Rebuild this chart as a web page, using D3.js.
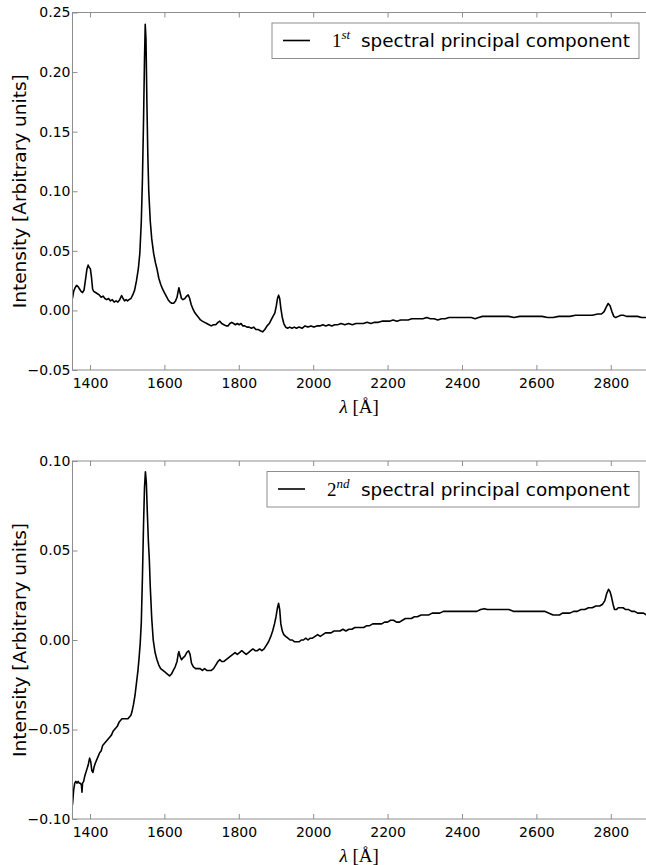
<!DOCTYPE html>
<html>
<head>
<meta charset="utf-8">
<script src="https://cdn.jsdelivr.net/npm/d3@7"></script>
<style>
  body { margin: 0; background: #fff; }
  svg { display: block; }
</style>
</head>
<body>
<div id="chart"></div>
<script>
var wavelengths1 = [1353, 1356, 1360, 1364, 1368, 1372, 1376, 1380, 1384, 1388, 1392, 1395, 1398, 1401, 1404, 1407, 1410, 1415, 1420, 1425, 1430, 1435, 1440, 1445, 1450, 1455, 1460, 1465, 1470, 1475, 1480, 1485, 1489, 1493, 1497, 1501, 1505, 1510, 1515, 1520, 1525, 1530, 1534, 1538, 1541, 1544, 1546.5, 1548.5, 1550.5, 1553, 1555.5, 1558, 1562, 1566, 1571, 1576, 1580, 1585, 1590, 1595, 1600, 1605, 1610, 1615, 1620, 1625, 1630, 1634, 1637, 1639, 1642, 1646, 1650, 1655, 1660, 1664, 1668, 1672, 1677, 1682, 1687, 1692, 1697, 1702, 1708, 1714, 1720, 1726, 1732, 1738, 1744, 1749, 1754, 1760, 1766, 1771, 1776, 1781, 1786, 1791, 1796, 1801, 1806, 1811, 1816, 1822, 1828, 1834, 1840, 1846, 1852, 1858, 1864, 1870, 1876, 1882, 1887, 1892, 1897, 1901, 1904, 1907, 1910, 1913, 1917, 1921, 1926, 1931, 1937, 1943, 1949, 1955, 1962, 1970, 1978, 1986, 1994, 2002, 2010, 2018, 2026, 2034, 2042, 2050, 2058, 2066, 2075, 2085, 2095, 2105, 2115, 2125, 2135, 2145, 2155, 2165, 2175, 2185, 2195, 2205, 2215, 2225, 2235, 2245, 2255, 2265, 2275, 2285, 2295, 2305, 2315, 2325, 2335, 2345, 2355, 2365, 2375, 2385, 2395, 2405, 2415, 2425, 2435, 2445, 2455, 2465, 2480, 2495, 2510, 2525, 2540, 2555, 2570, 2585, 2600, 2615, 2630, 2645, 2660, 2675, 2690, 2705, 2720, 2735, 2750, 2765, 2775, 2782, 2788, 2793, 2798, 2803, 2808, 2813, 2820, 2827, 2834, 2842, 2852, 2862, 2872, 2882, 2895];
var pc1 = [0.010, 0.016, 0.019, 0.021, 0.020, 0.018, 0.016, 0.015, 0.017, 0.026, 0.035, 0.038, 0.036, 0.035, 0.028, 0.018, 0.016, 0.015, 0.014, 0.013, 0.011, 0.012, 0.010, 0.009, 0.010, 0.008, 0.009, 0.007, 0.008, 0.007, 0.009, 0.0125, 0.010, 0.008, 0.009, 0.008, 0.009, 0.010, 0.013, 0.017, 0.025, 0.035, 0.048, 0.075, 0.110, 0.160, 0.210, 0.240, 0.228, 0.175, 0.130, 0.100, 0.075, 0.060, 0.048, 0.040, 0.035, 0.027, 0.022, 0.018, 0.015, 0.012, 0.009, 0.007, 0.006, 0.006, 0.008, 0.011, 0.016, 0.019, 0.015, 0.010, 0.009, 0.010, 0.012, 0.013, 0.010, 0.005, 0.001, -0.002, -0.004, -0.006, -0.008, -0.009, -0.010, -0.011, -0.012, -0.013, -0.012, -0.012, -0.010, -0.009, -0.011, -0.012, -0.013, -0.013, -0.011, -0.010, -0.011, -0.012, -0.011, -0.012, -0.011, -0.013, -0.013, -0.014, -0.014, -0.015, -0.014, -0.016, -0.016, -0.017, -0.018, -0.016, -0.013, -0.011, -0.008, -0.005, -0.002, 0.004, 0.010, 0.0128, 0.010, 0.002, -0.006, -0.011, -0.014, -0.015, -0.014, -0.015, -0.014, -0.015, -0.014, -0.015, -0.013, -0.014, -0.013, -0.014, -0.013, -0.013, -0.012, -0.013, -0.012, -0.013, -0.012, -0.012, -0.011, -0.012, -0.011, -0.012, -0.011, -0.011, -0.011, -0.010, -0.011, -0.010, -0.010, -0.009, -0.009, -0.009, -0.008, -0.009, -0.008, -0.008, -0.008, -0.007, -0.007, -0.007, -0.007, -0.006, -0.007, -0.007, -0.008, -0.007, -0.007, -0.006, -0.006, -0.006, -0.006, -0.006, -0.006, -0.006, -0.007, -0.006, -0.005, -0.005, -0.005, -0.005, -0.005, -0.005, -0.006, -0.005, -0.005, -0.005, -0.005, -0.005, -0.006, -0.006, -0.005, -0.005, -0.005, -0.004, -0.004, -0.004, -0.004, -0.003, -0.003, -0.001, 0.003, 0.0058, 0.004, -0.001, -0.005, -0.006, -0.005, -0.004, -0.004, -0.005, -0.005, -0.005, -0.005, -0.006, -0.006];

var wavelengths2 = [1353, 1356, 1359, 1362, 1365, 1368, 1371, 1374, 1377, 1378.5, 1380, 1383, 1386, 1389, 1392, 1395, 1399, 1402, 1405, 1408, 1411, 1414, 1418, 1422, 1426, 1430, 1434, 1438, 1442, 1446, 1450, 1454, 1458, 1462, 1466, 1470, 1474, 1478, 1482, 1486, 1490, 1494, 1498, 1502, 1506, 1510, 1513, 1517, 1521, 1525, 1529, 1532, 1535, 1538, 1541, 1544, 1546.5, 1549, 1551.5, 1554, 1557, 1559.5, 1562, 1566, 1570, 1575, 1580, 1585, 1590, 1596, 1602, 1608, 1614, 1619, 1624, 1629, 1634, 1637, 1639, 1642, 1646, 1650, 1655, 1660, 1665, 1669, 1673, 1678, 1684, 1690, 1696, 1702, 1708, 1714, 1720, 1726, 1732, 1738, 1744, 1749, 1754, 1760, 1766, 1772, 1778, 1784, 1790, 1796, 1802, 1808, 1814, 1820, 1826, 1832, 1838, 1844, 1850, 1856, 1862, 1868, 1874, 1880, 1886, 1891, 1896, 1900, 1904, 1907, 1910, 1913, 1917, 1921, 1926, 1932, 1938, 1944, 1950, 1956, 1962, 1968, 1974, 1980, 1986, 1992, 1998, 2005, 2012, 2019, 2026, 2033, 2040, 2048, 2056, 2064, 2072, 2080, 2088, 2096, 2104, 2112, 2120, 2128, 2136, 2144, 2152, 2160, 2168, 2176, 2184, 2192, 2200, 2208, 2216, 2224, 2232, 2240, 2248, 2256, 2264, 2272, 2280, 2290, 2300, 2310, 2320, 2330, 2340, 2350, 2360, 2370, 2380, 2390, 2400, 2410, 2420, 2430, 2440, 2450, 2460, 2468, 2478, 2490, 2502, 2514, 2526, 2538, 2550, 2562, 2574, 2586, 2598, 2610, 2622, 2634, 2645, 2654, 2662, 2670, 2680, 2690, 2700, 2710, 2720, 2730, 2740, 2750, 2760, 2770, 2778, 2784, 2789, 2794, 2798, 2802, 2806, 2810, 2815, 2820, 2826, 2833, 2840, 2848, 2856, 2864, 2872, 2880, 2888, 2895];
var pc2 = [-0.092, -0.084, -0.080, -0.079, -0.080, -0.079, -0.080, -0.080, -0.081, -0.085, -0.080, -0.079, -0.076, -0.074, -0.072, -0.070, -0.066, -0.068, -0.073, -0.074, -0.071, -0.069, -0.067, -0.065, -0.063, -0.062, -0.059, -0.058, -0.057, -0.056, -0.055, -0.054, -0.053, -0.051, -0.050, -0.049, -0.048, -0.046, -0.045, -0.044, -0.044, -0.044, -0.044, -0.044, -0.043, -0.042, -0.040, -0.036, -0.031, -0.024, -0.017, -0.010, -0.002, 0.010, 0.035, 0.065, 0.085, 0.094, 0.088, 0.072, 0.055, 0.045, 0.030, 0.012, 0.000, -0.007, -0.011, -0.014, -0.016, -0.017, -0.018, -0.019, -0.020, -0.019, -0.017, -0.015, -0.012, -0.008, -0.0065, -0.009, -0.011, -0.010, -0.009, -0.007, -0.006, -0.008, -0.013, -0.015, -0.016, -0.016, -0.016, -0.017, -0.016, -0.017, -0.017, -0.017, -0.016, -0.014, -0.012, -0.011, -0.012, -0.012, -0.011, -0.010, -0.009, -0.008, -0.007, -0.008, -0.007, -0.006, -0.007, -0.008, -0.007, -0.006, -0.005, -0.006, -0.006, -0.005, -0.006, -0.005, -0.003, -0.001, 0.002, 0.005, 0.009, 0.013, 0.018, 0.0205, 0.017, 0.009, 0.005, 0.003, 0.002, 0.001, 0.000, 0.000, -0.001, -0.001, -0.001, 0.000, 0.000, 0.001, 0.000, 0.001, 0.001, 0.002, 0.003, 0.002, 0.003, 0.004, 0.004, 0.004, 0.005, 0.005, 0.005, 0.006, 0.005, 0.006, 0.006, 0.007, 0.007, 0.007, 0.007, 0.008, 0.008, 0.009, 0.009, 0.009, 0.009, 0.010, 0.010, 0.011, 0.011, 0.010, 0.010, 0.011, 0.012, 0.012, 0.012, 0.013, 0.013, 0.014, 0.014, 0.014, 0.015, 0.015, 0.015, 0.016, 0.016, 0.016, 0.016, 0.016, 0.016, 0.016, 0.016, 0.016, 0.016, 0.017, 0.0175, 0.017, 0.017, 0.017, 0.017, 0.017, 0.017, 0.016, 0.016, 0.016, 0.016, 0.016, 0.016, 0.016, 0.016, 0.015, 0.014, 0.014, 0.014, 0.015, 0.015, 0.015, 0.016, 0.016, 0.017, 0.017, 0.018, 0.018, 0.019, 0.019, 0.020, 0.022, 0.026, 0.0283, 0.027, 0.024, 0.020, 0.017, 0.017, 0.018, 0.018, 0.018, 0.017, 0.017, 0.016, 0.016, 0.015, 0.015, 0.015, 0.014];

var xTicks = [1400, 1600, 1800, 2000, 2200, 2400, 2600, 2800];
var yTicks1 = [-0.05, 0.00, 0.05, 0.10, 0.15, 0.20, 0.25];
var yTicks2 = [-0.10, -0.05, 0.00, 0.05, 0.10];
var ordinals = ["1", "2"];
var ordinalSuffixes = ["st", "nd"];
var legendText = "spectral principal component";
var yLabel = "Intensity [Arbitrary units]";

var width = 646, height = 865;
var spineColor = "#8e8e8e";

var svg = d3.select("#chart").append("svg")
  .attr("width", width)
  .attr("height", height);

svg.append("rect").attr("width", width).attr("height", height).attr("fill", "#fff");

var x = d3.scaleLinear().domain([1353, 2900]).range([72.5, 648]);

var drawPanel = function drawPanel(opts) {
  var y = d3.scaleLinear().domain(opts.yDomain).range([opts.bottom, opts.top]);
  var g = svg.append("g");
  var rows = opts.lambda.map(function(l, i) { return { l: l, v: opts.values[i] }; });

  g.append("clipPath").attr("id", "clip" + opts.id)
    .append("rect")
    .attr("x", x.range()[0]).attr("y", opts.top)
    .attr("width", x.range()[1] - x.range()[0]).attr("height", opts.bottom - opts.top);

  g.append("path")
    .datum(rows)
    .attr("clip-path", "url(#clip" + opts.id + ")")
    .attr("fill", "none")
    .attr("stroke", "#000")
    .attr("stroke-width", 1.6)
    .attr("stroke-linejoin", "round")
    .attr("d", d3.line().x(function(d) { return x(d.l); }).y(function(d) { return y(d.v); }));

  var styleAxis = function(sel, hideText) {
    sel.select(".domain").remove();
    sel.selectAll(".tick line").attr("stroke", spineColor);
    sel.selectAll(".tick text")
      .attr("fill", "#000")
      .style("font-family", "'DejaVu Sans', sans-serif")
      .style("font-size", "14px");
    if (hideText) sel.selectAll(".tick text").remove();
  };

  g.append("g")
    .attr("transform", "translate(0," + opts.bottom + ")")
    .call(d3.axisBottom(x).tickValues(xTicks).tickSizeInner(-5).tickSizeOuter(0).tickPadding(8).tickFormat(d3.format("d")))
    .call(styleAxis, false);
  g.append("g")
    .attr("transform", "translate(0," + opts.top + ")")
    .call(d3.axisTop(x).tickValues(xTicks).tickSizeInner(-5).tickSizeOuter(0))
    .call(styleAxis, true);
  g.append("g")
    .attr("transform", "translate(" + x.range()[0] + ",0)")
    .call(d3.axisLeft(y).tickValues(opts.yTicks).tickSizeInner(-5).tickSizeOuter(0).tickPadding(2).tickFormat(d3.format(".2f")))
    .call(styleAxis, false);

  // frame
  g.append("rect")
    .attr("x", x.range()[0]).attr("y", opts.top)
    .attr("width", x.range()[1] - x.range()[0]).attr("height", opts.bottom - opts.top)
    .attr("fill", "none").attr("stroke", spineColor).attr("stroke-width", 1);

  g.append("text")
    .attr("transform", "translate(25.5," + (opts.top + opts.bottom) / 2 + ") rotate(-90)")
    .attr("text-anchor", "middle")
    .style("font-family", "'DejaVu Sans', sans-serif")
    .style("font-size", "18.5px")
    .text(yLabel);

  var xl = g.append("text")
    .attr("x", (x.range()[0] + 646) / 2)
    .attr("y", opts.bottom + 43)
    .attr("text-anchor", "middle")
    .style("font-family", "'Liberation Serif', serif")
    .style("font-size", "19px");
  xl.append("tspan").style("font-style", "italic").text("λ");
  xl.append("tspan").text(" [Å]");

  // legend
  var lg = g.append("g");
  lg.append("rect")
    .attr("x", opts.legendLeft).attr("y", opts.top + 10.5)
    .attr("width", 639 - opts.legendLeft).attr("height", 35.5)
    .attr("fill", "#fff").attr("stroke", spineColor).attr("stroke-width", 1);
  var ly = opts.top + 28;
  lg.append("line")
    .attr("x1", opts.legendLeft + 11).attr("x2", opts.legendLeft + 38)
    .attr("y1", ly).attr("y2", ly)
    .attr("stroke", "#000").attr("stroke-width", 1.6);
  var ord = lg.append("text")
    .attr("x", opts.legendLeft + 60)
    .attr("y", ly + 6.5)
    .style("font-family", "'Liberation Serif', serif")
    .style("font-size", "19px");
  ord.append("tspan").text(ordinals[opts.id]);
  ord.append("tspan")
    .attr("dy", -8)
    .style("font-style", "italic")
    .style("font-size", "13px")
    .text(ordinalSuffixes[opts.id]);
  lg.append("text")
    .attr("x", 361)
    .attr("y", ly + 6.5)
    .style("font-family", "'DejaVu Sans', sans-serif")
    .style("font-size", "18.4px")
    .text(legendText);
};

drawPanel({ id: 0, lambda: wavelengths1, values: pc1, yDomain: [-0.05, 0.25], yTicks: yTicks1, top: 12.5, bottom: 370, legendLeft: 272 });
drawPanel({ id: 1, lambda: wavelengths2, values: pc2, yDomain: [-0.10, 0.10], yTicks: yTicks2, top: 461, bottom: 819, legendLeft: 267 });
</script>
</body>
</html>
